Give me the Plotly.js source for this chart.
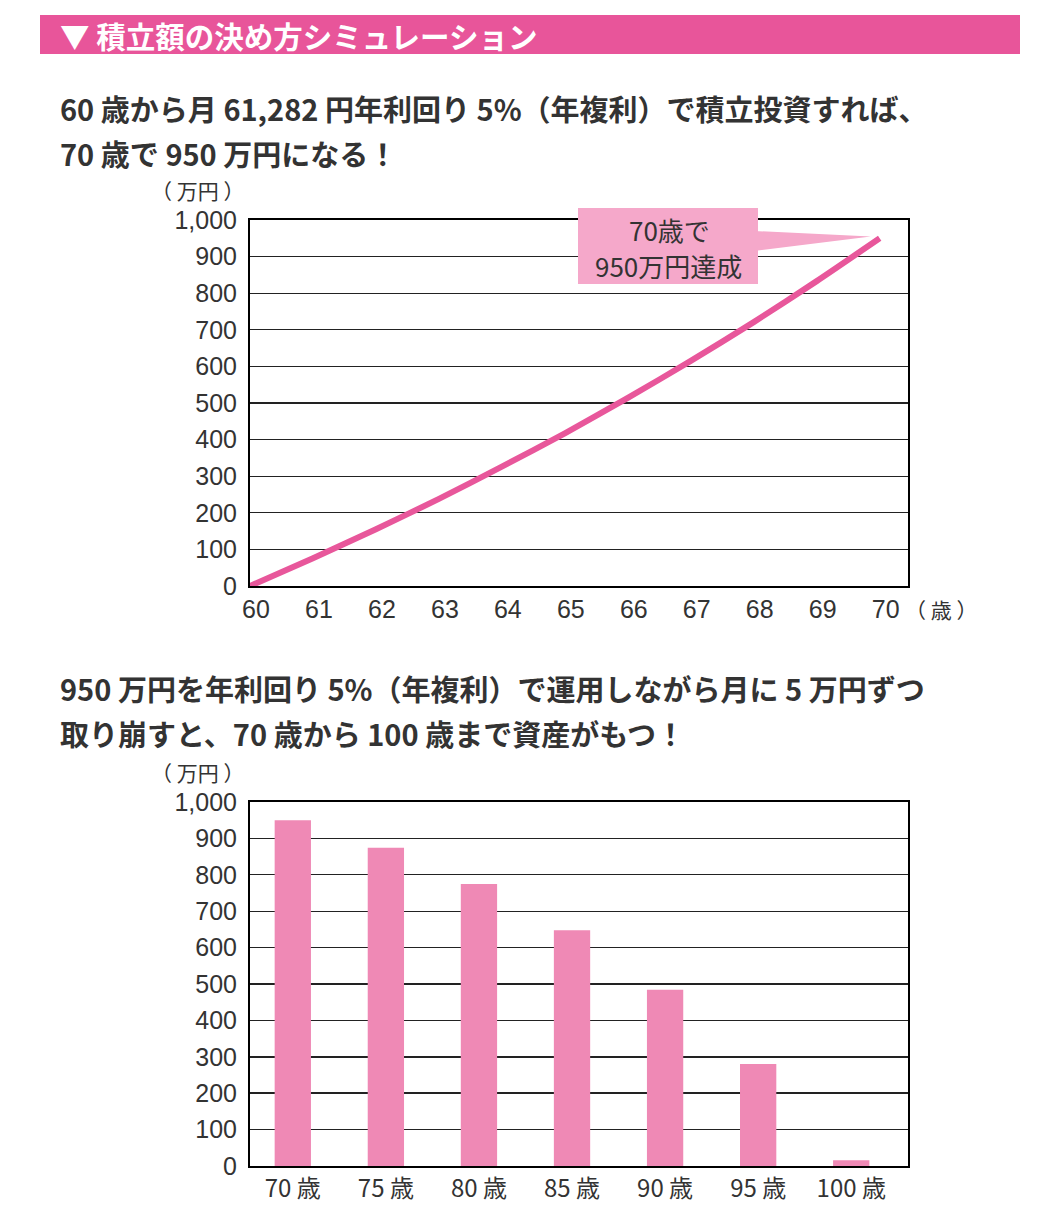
<!DOCTYPE html>
<html><head><meta charset="utf-8">
<script src="https://cdn.plot.ly/plotly-3.0.1.min.js"></script>
<style>html,body{margin:0;padding:0;background:#fff}</style>
</head><body><div id="chart" style="width:1040px;height:1210px"></div>
<script>
// ---- data ----
var ages = [60, 61, 62, 63, 64, 65, 66, 67, 68, 69, 70];
var accumulated = [0, 76, 155, 238, 326, 417, 514, 615, 721, 833, 950];
var barCategories = ['70 歳', '75 歳', '80 歳', '85 歳', '90 歳', '95 歳', '100 歳'];
var barValues = [950, 874, 775, 648, 484, 280, 16];
var yTicks = [0, 100, 200, 300, 400, 500, 600, 700, 800, 900, 1000];

var W = 1040, H = 1210;
function px(x){return x / W;}
function py(y){return 1 - y / H;}

var FONT = 'Liberation Sans, Arial, Noto Sans CJK JP, sans-serif';
var JFONT = 'Noto Sans CJK JP, sans-serif';
var TXT = '#333333';
var LINE = '#E8579B';
var BAR = '#EF89B5';
var BOX = '#F5A8CA';

var traces = [
  {type:'scatter', mode:'lines', x: ages, y: accumulated, xaxis:'x', yaxis:'y',
   line:{color: LINE, width: 6, shape:'spline', smoothing:0.6}, hoverinfo:'skip'},
  {type:'bar', x: barCategories, y: barValues, xaxis:'x2', yaxis:'y2',
   marker:{color: BAR}, width: 0.39, hoverinfo:'skip'}
];

var axisY = {
  range:[0, 1000], tickvals: yTicks, tickformat: ',d',
  showgrid:true, gridcolor:'#222', gridwidth:1.4,
  showline:true, linecolor:'#000', linewidth:2, mirror:true,
  zeroline:false, ticks:'', fixedrange:true, ticklabelstandoff: 6,
  tickfont:{family: FONT, size: 25, color: TXT}
};

var layout = {
  width: W, height: H,
  margin:{l:0, r:0, t:0, b:0},
  paper_bgcolor:'#fff', plot_bgcolor:'#fff',
  showlegend:false,
  xaxis:{domain:[px(250), px(908)], range:[60, 70.45], tickvals: ages,
         showgrid:false, zeroline:false, showline:true, linecolor:'#000', linewidth:2, mirror:true,
         ticks:'', ticklabelshift: 6, tickfont:{family: FONT, size: 25, color: TXT}, anchor:'y'},
  yaxis: Object.assign({domain:[py(586), py(220)], anchor:'x'}, axisY),
  xaxis2:{domain:[px(250), px(908)], range:[-0.46, 6.61], type:'category',
          showgrid:false, zeroline:false, showline:true, linecolor:'#000', linewidth:2, mirror:true,
          ticks:'', tickfont:{family: JFONT, size: 24, color: TXT}, anchor:'y2'},
  yaxis2: Object.assign({domain:[py(1166), py(802)], anchor:'x2'}, axisY),
  bargap: 0.6,
  shapes:[
    {type:'rect', xref:'paper', yref:'paper', x0:px(40), x1:px(1020), y0:py(54), y1:py(15),
     fillcolor:'#E8559A', line:{width:0}, layer:'below'},
    {type:'rect', xref:'paper', yref:'paper', x0:px(578), x1:px(758), y0:py(284), y1:py(208),
     fillcolor: BOX, line:{width:0}, layer:'above'},
    {type:'path', xref:'x', yref:'y', path:'M 68.0 970 L 68.0 915 L 69.86 955 Z',
     fillcolor: BOX, line:{width:0}, layer:'above'}
  ],
  annotations:[
    {xref:'paper', yref:'paper', x:px(58), y:py(35), xanchor:'left', yanchor:'middle',
     text:'▼ 積立額の決め方シミュレーション', showarrow:false,
     font:{family: JFONT, size: 29.5, color:'#fff', weight:700}},
    {xref:'paper', yref:'paper', x:px(58), y:py(108), xanchor:'left', yanchor:'middle',
     text:'60 歳から月 61,282 円年利回り 5%（年複利）で積立投資すれば、', showarrow:false,
     font:{family: JFONT, size: 29, color: TXT, weight:700}},
    {xref:'paper', yref:'paper', x:px(58), y:py(153), xanchor:'left', yanchor:'middle',
     text:'70 歳で 950 万円になる！', showarrow:false,
     font:{family: JFONT, size: 29, color: TXT, weight:700}},
    {xref:'paper', yref:'paper', x:px(58), y:py(688), xanchor:'left', yanchor:'middle',
     text:'950 万円を年利回り 5%（年複利）で運用しながら月に 5 万円ずつ', showarrow:false,
     font:{family: JFONT, size: 29, color: TXT, weight:700}},
    {xref:'paper', yref:'paper', x:px(58), y:py(733), xanchor:'left', yanchor:'middle',
     text:'取り崩すと、70 歳から 100 歳まで資産がもつ！', showarrow:false,
     font:{family: JFONT, size: 29, color: TXT, weight:700}},
    {xref:'paper', yref:'paper', x:px(246), y:py(190), xanchor:'right', yanchor:'middle',
     text:'（ 万円 ）', showarrow:false, font:{family: JFONT, size: 21, color: TXT}},
    {xref:'paper', yref:'paper', x:px(246), y:py(772), xanchor:'right', yanchor:'middle',
     text:'（ 万円 ）', showarrow:false, font:{family: JFONT, size: 21, color: TXT}},
    {xref:'paper', yref:'paper', x:px(903), y:py(609), xanchor:'left', yanchor:'middle',
     text:'（ 歳 ）', showarrow:false, font:{family: JFONT, size: 21, color: TXT}},
    {xref:'paper', yref:'paper', x:px(669), y:py(229), xanchor:'center', yanchor:'middle',
     text:'70歳で', showarrow:false, borderpad: 0,
     font:{family: JFONT, size: 26, color: TXT}},
    {xref:'paper', yref:'paper', x:px(668), y:py(265), xanchor:'center', yanchor:'middle',
     text:'950万円達成', showarrow:false, borderpad: 0,
     font:{family: JFONT, size: 26, color: TXT}}
  ]
};

Plotly.newPlot('chart', traces, layout, {staticPlot:true, displayModeBar:false});
</script></body></html>
